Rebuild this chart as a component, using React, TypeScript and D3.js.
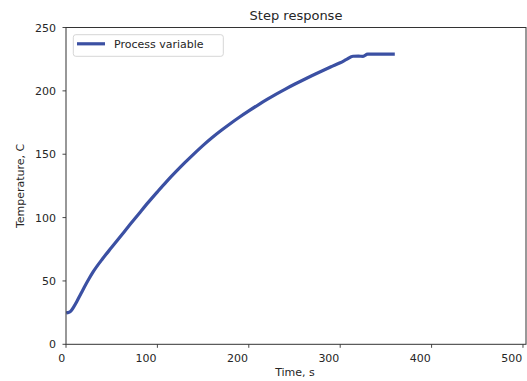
import React from "react";
import * as d3 from "d3";

const timeS = [2, 5, 8, 12, 16, 20, 25, 30, 40, 50, 60, 70, 80, 90, 100, 110, 120, 130, 140, 150, 160, 170, 180, 190, 200, 210, 220, 230, 240, 250, 260, 270, 280, 290, 300, 307, 314, 320, 325, 330, 358];
const temperature = [25, 26, 29, 34, 39.5, 45, 51.5, 57.5, 67.5, 76.5, 85.5, 94.5, 103.3, 112, 120.3, 128.4, 136, 143.3, 150.3, 157, 163.2, 168.9, 174.3, 179.4, 184.2, 188.8, 193.2, 197.4, 201.4, 205.2, 208.8, 212.3, 215.7, 219, 222.2, 224.8, 227.3, 227.4, 227.2, 229, 229];
const xTicks = [0, 100, 200, 300, 400, 500];
const yTicks = [0, 50, 100, 150, 200, 250];

const W = 527;
const H = 381;
const L = 66;
const R = 526;
const T = 27.5;
const B = 344.3;
const FONT = "DejaVu Sans, sans-serif";

export default function App() {
  const x = d3.scaleLinear().domain([0, 503.3]).range([L, R]);
  const y = d3.scaleLinear().domain([0, 250]).range([B, T]);
  const data = timeS.map((t, i) => [t, temperature[i]] as [number, number]);
  const line = d3
    .line<[number, number]>()
    .x((d) => x(d[0]))
    .y((d) => y(d[1]))
    .curve(d3.curveMonotoneX);
  const color = "#3b50a3";
  return (
    <svg
      width={W}
      height={H}
      style={{ position: "absolute", left: 0, top: 0, background: "#fff" }}
      fontFamily={FONT}
    >
      <rect x={0} y={0} width={W} height={H} fill="#fff" />
      <path d={line(data) || ""} fill="none" stroke={color} strokeWidth={3.2} strokeLinecap="square" strokeLinejoin="round" />
      <rect x={L} y={T} width={R - L} height={B - T} fill="none" stroke="#333" strokeWidth={1} />
      {xTicks.map((t) => (
        <g key={"x" + t}>
          <line x1={x(t)} x2={x(t)} y1={B} y2={B + 3.5} stroke="#333" strokeWidth={0.9} />
          <text x={x(t) - 0.8} y={361.7} textAnchor="end" fontSize={11} fill="#262626">
            {t}
          </text>
        </g>
      ))}
      {yTicks.map((t) => (
        <g key={"y" + t}>
          <line x1={L - 3.5} x2={L} y1={y(t)} y2={y(t)} stroke="#333" strokeWidth={0.9} />
          <text x={56} y={y(t) + 4} textAnchor="end" fontSize={11} fill="#262626">
            {t}
          </text>
        </g>
      ))}
      <text x={296} y={20} textAnchor="middle" fontSize={13} fill="#262626">
        Step response
      </text>
      <text x={295} y={376} textAnchor="middle" fontSize={11} fill="#262626">
        Time, s
      </text>
      <text
        transform={`translate(24,${(T + B) / 2}) rotate(-90)`}
        textAnchor="middle"
        fontSize={11}
        fill="#262626"
      >
        Temperature, C
      </text>
      <rect x={73.3} y={34.7} width={150} height={21.6} rx={2.5} fill="#fff" fillOpacity={0.8} stroke="#d6d6d6" strokeWidth={1} />
      <line x1={77} x2={105} y1={43.8} y2={43.8} stroke={color} strokeWidth={3.2} />
      <text x={114} y={47.6} fontSize={11} fill="#262626">
        Process variable
      </text>
    </svg>
  );
}
